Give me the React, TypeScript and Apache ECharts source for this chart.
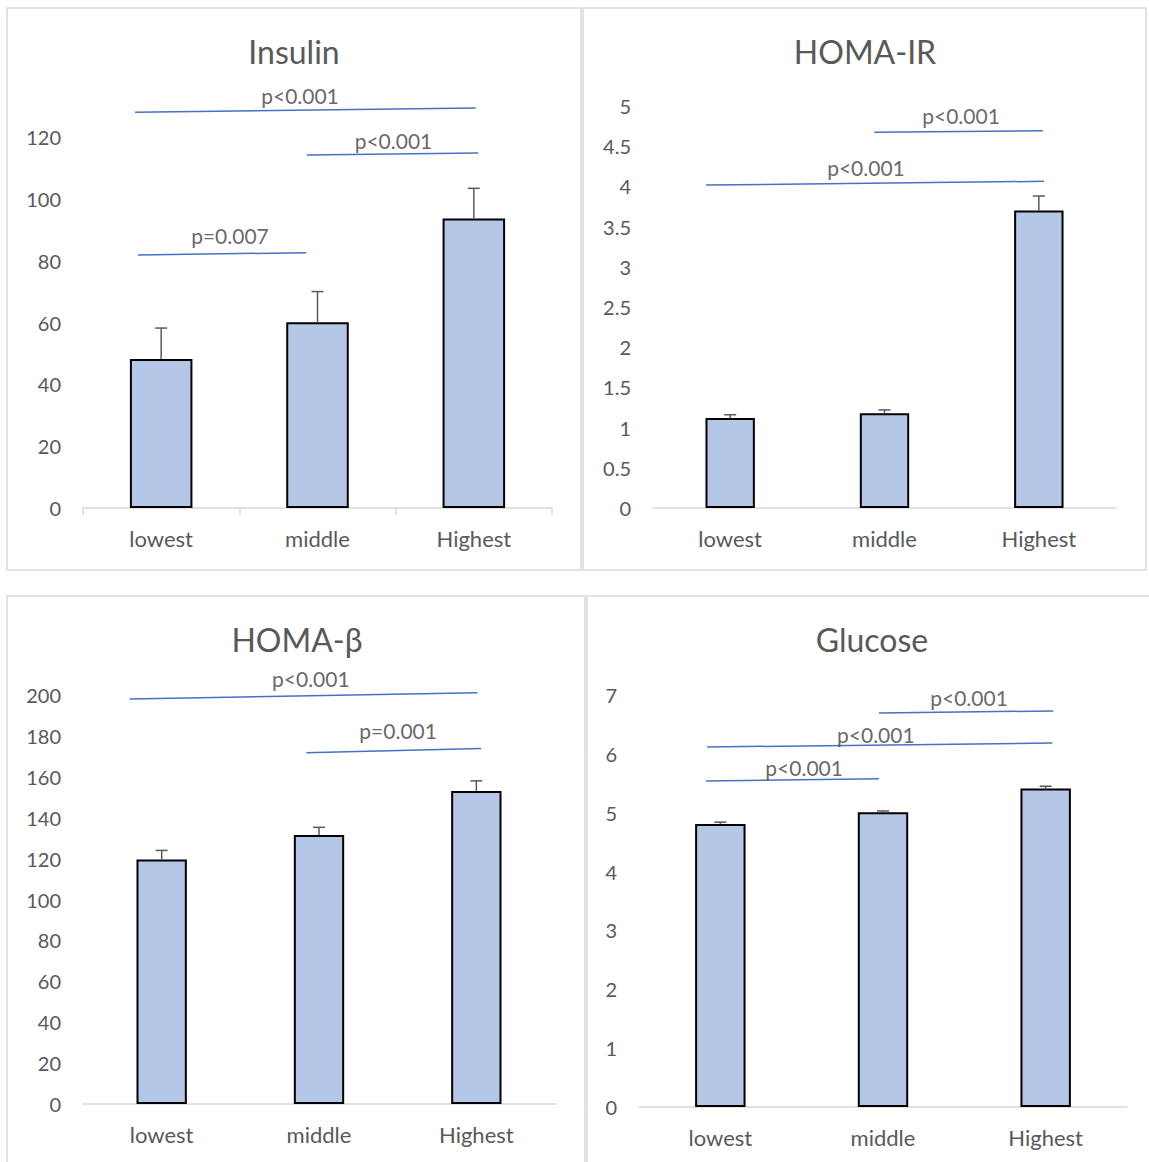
import React, { useEffect, useRef } from 'react';
import * as echarts from 'echarts';

const categories = ['lowest', 'middle', 'Highest'];

const insulinMeans = [48.2, 60.1, 93.6];
const insulinErrors = [10.0, 9.9, 9.8];
const homaIrMeans = [1.12, 1.18, 3.7];
const homaIrErrors = [0.04, 0.04, 0.18];
const homaBetaMeans = [119.6, 131.5, 153.1];
const homaBetaErrors = [4.4, 3.8, 4.9];
const glucoseMeans = [4.81, 5.01, 5.41];
const glucoseErrors = [0.03, 0.02, 0.04];

const insulinTicks = [0, 20, 40, 60, 80, 100, 120];
const homaIrTicks = [0, 0.5, 1, 1.5, 2, 2.5, 3, 3.5, 4, 4.5, 5];
const homaBetaTicks = [0, 20, 40, 60, 80, 100, 120, 140, 160, 180, 200];
const glucoseTicks = [0, 1, 2, 3, 4, 5, 6, 7];

// significance brackets: [xStart, yStart, xEnd, yEnd] in (category position, value) units
const insulinBrackets = [
  [-0.167, 128.0, 2.012, 129.4],
  [0.932, 114.2, 2.027, 114.8],
  [-0.149, 81.8, 0.928, 82.6],
];
const insulinPLabels: [string, number, number][] = [
  ['p<0.001', 0.888, 133.3],
  ['p<0.001', 1.486, 118.9],
  ['p=0.007', 0.44, 88.1],
];
const homaIrBrackets = [
  [0.934, 4.673, 2.026, 4.693],
  [-0.156, 4.017, 2.033, 4.063],
];
const homaIrPLabels: [string, number, number][] = [
  ['p<0.001', 1.496, 4.888],
  ['p<0.001', 0.88, 4.241],
];
const homaBetaBrackets = [
  [-0.203, 198.1, 2.007, 201.1],
  [0.92, 171.8, 2.031, 173.8],
];
const homaBetaPLabels: [string, number, number][] = [
  ['p<0.001', 0.948, 208.1],
  ['p=0.001', 1.503, 182.7],
];
const glucoseBrackets = [
  [0.975, 6.694, 2.047, 6.729],
  [-0.081, 6.116, 2.041, 6.184],
  [-0.088, 5.538, 0.975, 5.577],
];
const glucosePLabels: [string, number, number][] = [
  ['p<0.001', 1.529, 6.963],
  ['p<0.001', 0.956, 6.329],
  ['p<0.001', 0.515, 5.773],
];

const FONT = 'Lato';
const AXIS_TEXT = '#595959';
const BAR_FILL = '#B4C7E7';
const LINE_BLUE = '#4472C4';
const FRAME = '#D9D9D9';

const panels = [
  {
    title: 'Insulin', means: insulinMeans, errors: insulinErrors, ticks: insulinTicks,
    brackets: insulinBrackets, pLabels: insulinPLabels,
    grid: { left: 83, top: 137, width: 469, height: 371 }, titleAt: [294, 51],
    barWidth: '40%', showTicks: true, frame: [7, 8, 574, 562],
  },
  {
    title: 'HOMA-IR', means: homaIrMeans, errors: homaIrErrors, ticks: homaIrTicks,
    brackets: homaIrBrackets, pLabels: homaIrPLabels,
    grid: { left: 653, top: 106, width: 463, height: 402 }, titleAt: [865, 51],
    barWidth: '32%', showTicks: false, frame: [583, 8, 563, 562],
  },
  {
    title: 'HOMA-β', means: homaBetaMeans, errors: homaBetaErrors, ticks: homaBetaTicks,
    brackets: homaBetaBrackets, pLabels: homaBetaPLabels,
    grid: { left: 83, top: 695, width: 472, height: 409 }, titleAt: [297, 639],
    barWidth: '32%', showTicks: false, frame: [7, 596, 578, 570],
  },
  {
    title: 'Glucose', means: glucoseMeans, errors: glucoseErrors, ticks: glucoseTicks,
    brackets: glucoseBrackets, pLabels: glucosePLabels,
    grid: { left: 639, top: 695, width: 488, height: 412 }, titleAt: [872, 639],
    barWidth: '31%', showTicks: false, frame: [587, 596, 570, 570],
  },
];

export default function App() {
  const ref = useRef<HTMLDivElement>(null);

  useEffect(() => {
    if (!ref.current) return;
    const chart = echarts.init(ref.current, undefined, { renderer: 'svg' });

    const grids: any[] = [];
    const xAxes: any[] = [];
    const yAxes: any[] = [];
    const titles: any[] = [];
    const series: any[] = [];
    const graphics: any[] = [];

    panels.forEach((p, i) => {
      grids.push({ ...p.grid });
      graphics.push({
        type: 'rect', z: -1, silent: true,
        shape: { x: p.frame[0], y: p.frame[1], width: p.frame[2], height: p.frame[3] },
        style: { fill: 'none', stroke: FRAME, lineWidth: 1.5 },
      });
      titles.push({
        text: p.title, left: p.titleAt[0], top: p.titleAt[1], padding: 0,
        textAlign: 'center', textVerticalAlign: 'middle',
        textStyle: { fontFamily: FONT, fontSize: 32, fontWeight: 'normal', color: AXIS_TEXT },
      });
      xAxes.push({
        type: 'category', gridIndex: i, data: categories,
        axisLine: { lineStyle: { color: FRAME, width: 1.5 } },
        axisTick: { show: p.showTicks, length: 7, lineStyle: { color: FRAME, width: 1.5 } },
        axisLabel: { color: AXIS_TEXT, fontFamily: FONT, fontSize: 22, margin: 19 },
        splitLine: { show: false },
      });
      xAxes.push({
        type: 'value', gridIndex: i, show: false, min: -0.5, max: 2.5,
        splitLine: { show: false },
      });
      const t = p.ticks;
      yAxes.push({
        type: 'value', gridIndex: i, min: t[0], max: t[t.length - 1], interval: t[1] - t[0],
        axisLine: { show: false }, axisTick: { show: false }, splitLine: { show: false },
        axisLabel: { color: AXIS_TEXT, fontFamily: FONT, fontSize: 20, margin: 22 },
      });

      series.push({
        type: 'bar', xAxisIndex: i * 2, yAxisIndex: i, data: p.means, barWidth: p.barWidth,
        itemStyle: { color: BAR_FILL, borderColor: '#000', borderWidth: 2 },
        z: 2,
      });
      series.push({
        type: 'custom', xAxisIndex: i * 2, yAxisIndex: i,
        data: p.means.map((m, k) => [k, m, p.errors[k]]),
        encode: { x: 0, y: 1 }, z: 3, clip: false,
        renderItem: (_params: any, api: any) => {
          const k = api.value(0);
          const v = api.value(1);
          const e = api.value(2);
          const base = api.coord([k, v]);
          const top = api.coord([k, v + e]);
          const st = { stroke: '#595959', lineWidth: 1.5 };
          return {
            type: 'group',
            children: [
              { type: 'line', shape: { x1: base[0], y1: base[1], x2: top[0], y2: top[1] }, style: st },
              { type: 'line', shape: { x1: top[0] - 6, y1: top[1], x2: top[0] + 6, y2: top[1] }, style: st },
            ],
          };
        },
      });
      p.brackets.forEach((b) => {
        series.push({
          type: 'line', xAxisIndex: i * 2 + 1, yAxisIndex: i,
          data: [[b[0], b[1]], [b[2], b[3]]],
          symbol: 'none', clip: false, silent: true, z: 4,
          lineStyle: { color: LINE_BLUE, width: 1.5 },
        });
      });
      series.push({
        type: 'scatter', xAxisIndex: i * 2 + 1, yAxisIndex: i,
        data: p.pLabels.map((l) => [l[1], l[2], l[0]]),
        symbolSize: 1, clip: false, silent: true, z: 5,
        itemStyle: { color: 'rgba(0,0,0,0)' },
        label: {
          show: true, position: 'inside', color: '#404040', fontFamily: FONT, fontSize: 21,
          formatter: (q: any) => q.value[2],
        },
      });
    });

    chart.setOption({
      animation: false,
      backgroundColor: '#fff',
      title: titles,
      grid: grids,
      xAxis: xAxes,
      yAxis: yAxes,
      series,
      graphic: graphics,
    });

    return () => chart.dispose();
  }, []);

  return (
    <div
      ref={ref}
      style={{ position: 'absolute', left: 0, top: 0, width: 1149, height: 1162 }}
    />
  );
}
